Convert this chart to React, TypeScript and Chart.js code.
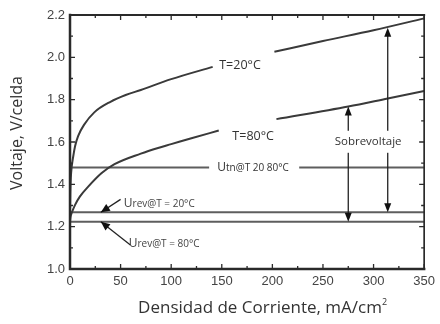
import React, { useEffect, useRef } from 'react';
import { Chart, registerables } from 'chart.js';

Chart.register(...registerables);

// ---- data ----
const xTicks = [0, 50, 100, 150, 200, 250, 300, 350];
const yTicks = [1.0, 1.2, 1.4, 1.6, 1.8, 2.0, 2.2];

// T = 20 °C polarisation curve (two segments, gap for label)
const t20A_x = [0, 0.3, 0.8, 1.7, 3.3, 5, 8, 14, 24, 40, 55, 70, 100, 141];
const t20A_y = [1.27, 1.36, 1.43, 1.483, 1.535, 1.58, 1.628, 1.682, 1.74, 1.79, 1.822, 1.846, 1.897, 1.955];
const t20B_x = [202, 250, 300, 350];
const t20B_y = [2.026, 2.077, 2.128, 2.184];

// T = 80 °C polarisation curve
const t80A_x = [0, 0.5, 1.7, 4.9, 9.7, 18, 31, 44, 70, 87, 100, 120, 147];
const t80A_y = [1.225, 1.245, 1.265, 1.302, 1.342, 1.389, 1.452, 1.495, 1.545, 1.572, 1.59, 1.618, 1.654];
const t80B_x = [204, 275, 314, 350];
const t80B_y = [1.708, 1.768, 1.806, 1.841];

// horizontal reference voltages
const utnValue = 1.48;
const utnA_x = [0, 137.5];
const utnB_x = [226.5, 350];
const urev20Value = 1.268;
const urev80Value = 1.223;
const fullSpan_x = [0, 350];

// "Sobrevoltaje" double arrows
const overX = [275, 314];
const overTop = [1.768, 2.14];
const overBottom = [1.223, 1.268];

// pointer arrows for Urev labels: [tailX, tailY, tipX, tipY]
const urev20Arrow = [50, 1.329, 30.5, 1.268];
const urev80Arrow = [59.7, 1.113, 30.5, 1.223];

const seg = (xs: number[], ys: number[]) => xs.map((x, i) => ({ x, y: ys[i] }));
const gapped = (a: { x: number; y: number | null }[], b: { x: number; y: number | null }[]) => [
  ...a,
  { x: (a[a.length - 1].x + b[0].x) / 2, y: null },
  ...b,
];
const flat = (xs: number[], v: number) => xs.map((x) => ({ x, y: v }));

const FONT = "'Open Sans', 'DejaVu Sans', sans-serif";

function arrowHead(ctx: CanvasRenderingContext2D, tx: number, ty: number, fx: number, fy: number, len = 9, hw = 3.5) {
  const ang = Math.atan2(ty - fy, tx - fx);
  const bx = tx - len * Math.cos(ang);
  const by = ty - len * Math.sin(ang);
  const nx = -Math.sin(ang) * hw;
  const ny = Math.cos(ang) * hw;
  ctx.beginPath();
  ctx.moveTo(tx, ty);
  ctx.lineTo(bx + nx, by + ny);
  ctx.lineTo(bx - nx, by - ny);
  ctx.closePath();
  ctx.fill();
}

function subText(ctx: CanvasRenderingContext2D, big: string, small: string, x: number, y: number, color: string) {
  ctx.fillStyle = color;
  ctx.textAlign = 'left';
  ctx.textBaseline = 'alphabetic';
  ctx.font = `12px ${FONT}`;
  ctx.fillText(big, x, y);
  const w = ctx.measureText(big).width;
  ctx.font = `10px ${FONT}`;
  ctx.fillText(small, x + w, y);
}

const annotations = {
  id: 'annotations',
  afterDatasetsDraw(chart: any) {
    const { ctx, chartArea: a, scales } = chart;
    const xs = scales.x;
    const ys = scales.y;
    const px = (v: number) => xs.getPixelForValue(v);
    const py = (v: number) => ys.getPixelForValue(v);
    ctx.save();

    // frame
    ctx.strokeStyle = '#2a2a2a';
    ctx.lineCap = 'square';
    ctx.lineWidth = 2;
    ctx.beginPath(); ctx.moveTo(a.left, a.top); ctx.lineTo(a.right, a.top); ctx.stroke();
    ctx.lineWidth = 1.7;
    ctx.beginPath(); ctx.moveTo(a.right, a.top); ctx.lineTo(a.right, a.bottom); ctx.stroke();
    ctx.lineWidth = 2.5;
    ctx.beginPath(); ctx.moveTo(a.left, a.top); ctx.lineTo(a.left, a.bottom); ctx.lineTo(a.right, a.bottom); ctx.stroke();

    // inward ticks (major + minor) on all four sides
    ctx.lineWidth = 1.3;
    ctx.lineCap = 'butt';
    for (let v = 0; v <= 350; v += 25) {
      const len = v % 50 === 0 ? 5 : 3;
      const x = px(v);
      ctx.beginPath();
      ctx.moveTo(x, a.bottom); ctx.lineTo(x, a.bottom - len);
      ctx.moveTo(x, a.top); ctx.lineTo(x, a.top + len);
      ctx.stroke();
    }
    for (let i = 0; i <= 12; i++) {
      const len = i % 2 === 0 ? 5 : 3;
      const y = py(1 + i * 0.1);
      ctx.beginPath();
      ctx.moveTo(a.left, y); ctx.lineTo(a.left + len, y);
      ctx.moveTo(a.right, y); ctx.lineTo(a.right - len, y);
      ctx.stroke();
    }

    // Sobrevoltaje double arrows
    ctx.strokeStyle = '#222';
    ctx.fillStyle = '#111';
    ctx.lineWidth = 1.3;
    overX.forEach((xv, i) => {
      const x = px(xv);
      const yt = py(overTop[i]);
      const yb = py(overBottom[i]);
      ctx.beginPath(); ctx.moveTo(x, yt + 6); ctx.lineTo(x, yb - 6); ctx.stroke();
      arrowHead(ctx, x, yt, x, yb);
      arrowHead(ctx, x, yb, x, yt);
    });

    // Urev pointer arrows
    [urev20Arrow, urev80Arrow].forEach((ar) => {
      const fx = px(ar[0]), fy = py(ar[1]), tx = px(ar[2]), ty = py(ar[3]);
      ctx.lineWidth = 1.3;
      ctx.beginPath(); ctx.moveTo(fx, fy); ctx.lineTo(tx, ty); ctx.stroke();
      arrowHead(ctx, tx, ty, fx, fy, 9, 4);
    });

    // Sobrevoltaje label with white box
    ctx.font = `11.5px ${FONT}`;
    const st = 'Sobrevoltaje';
    const sw = ctx.measureText(st).width;
    const scx = px(294.6), scy = py(1.601);
    ctx.fillStyle = '#ffffff';
    ctx.fillRect(scx - sw / 2 - 2, scy - 11, sw + 4, 22);
    ctx.fillStyle = '#333';
    ctx.textAlign = 'center';
    ctx.textBaseline = 'middle';
    ctx.fillText(st, scx, scy);

    // curve labels
    ctx.font = `12.5px ${FONT}`;
    ctx.fillText('T=20°C', px(168), py(1.964));
    ctx.fillText('T=80°C', px(181), py(1.628));

    // reference voltage labels
    subText(ctx, 'U', 'tn@T 20 80°C', px(145.5), py(utnValue) + 4, '#333');
    subText(ctx, 'U', 'rev@T = 20°C', px(53.2), py(1.313) + 4, '#444');
    subText(ctx, 'U', 'rev@T = 80°C', px(58), py(1.121) + 4, '#444');

    // axis titles
    ctx.fillStyle = '#333';
    ctx.font = `17px ${FONT}`;
    ctx.textAlign = 'center';
    ctx.textBaseline = 'middle';
    const xt = 'Densidad de Corriente, mA/cm';
    const xtw = ctx.measureText(xt).width;
    const xcx = 260;
    ctx.fillText(xt, xcx, 308);
    ctx.font = `9px ${FONT}`;
    ctx.textAlign = 'left';
    ctx.fillText('2', xcx + xtw / 2, 302);

    ctx.font = `16px ${FONT}`;
    ctx.textAlign = 'center';
    ctx.translate(17, 133);
    ctx.rotate(-Math.PI / 2);
    ctx.fillText('Voltaje, V/celda', 0, 0);

    ctx.restore();
  },
};

export default function App() {
  const ref = useRef<HTMLCanvasElement>(null);

  useEffect(() => {
    document.body.style.margin = '0';
    const curve = { borderColor: '#3a3a3a', borderWidth: 2, pointRadius: 0, cubicInterpolationMode: 'monotone' as const, spanGaps: false };
    const hline = { borderColor: '#5e5e5e', borderWidth: 2, pointRadius: 0, tension: 0, spanGaps: false };
    const chart = new Chart(ref.current!, {
      type: 'line',
      data: {
        datasets: [
          { ...curve, label: 'T=20°C', data: gapped(seg(t20A_x, t20A_y), seg(t20B_x, t20B_y)) },
          { ...curve, label: 'T=80°C', data: gapped(seg(t80A_x, t80A_y), seg(t80B_x, t80B_y)) },
          { ...hline, label: 'Utn', data: gapped(flat(utnA_x, utnValue), flat(utnB_x, utnValue)) },
          { ...hline, label: 'Urev 20', data: flat(fullSpan_x, urev20Value) },
          { ...hline, label: 'Urev 80', data: flat(fullSpan_x, urev80Value) },
        ] as any,
      },
      options: {
        responsive: false,
        animation: false,
        devicePixelRatio: 1,
        layout: { padding: { left: 0, right: 10, top: 15, bottom: 0 } },
        plugins: { legend: { display: false }, tooltip: { enabled: false } },
        scales: {
          x: {
            type: 'linear',
            min: 0,
            max: 350,
            afterBuildTicks: (s: any) => { s.ticks = xTicks.map((v) => ({ value: v })); },
            ticks: { color: '#444', padding: 5, maxRotation: 0, font: { family: "'Liberation Sans', Arial, sans-serif", size: 13 } },
            grid: { display: false, drawTicks: false },
            border: { display: false },
            afterFit: (s: any) => { s.height = 55; },
          },
          y: {
            type: 'linear',
            min: 1.0,
            max: 2.2,
            afterBuildTicks: (s: any) => { s.ticks = yTicks.map((v) => ({ value: v })); },
            ticks: { color: '#444', padding: 5, callback: (v: any) => Number(v).toFixed(1), font: { family: "'Liberation Sans', Arial, sans-serif", size: 13 } },
            grid: { display: false, drawTicks: false },
            border: { display: false },
            afterFit: (s: any) => { s.width = 70; },
          },
        },
      },
      plugins: [annotations],
    });
    return () => chart.destroy();
  }, []);

  return (
    <div style={{ position: 'absolute', left: 0, top: 0, width: 440, height: 324, background: '#fff' }}>
      <canvas ref={ref} width={440} height={324} style={{ display: 'block', width: 440, height: 324 }} />
    </div>
  );
}
